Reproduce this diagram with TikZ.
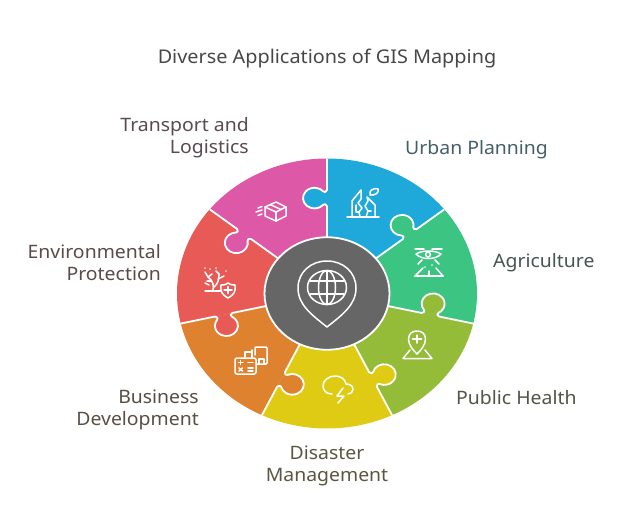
\documentclass[tikz,border=0pt]{standalone}
\usepackage{fontspec}
\setmainfont[FakeStretch=1.05]{Noto Sans}
\usepackage{xcolor}
\usepackage{tikz}
\definecolor{cityblue}{RGB}{30, 169, 218}
\definecolor{farmgreen}{RGB}{60, 196, 130}
\definecolor{healtholive}{RGB}{148, 188, 56}
\definecolor{stormyellow}{RGB}{224, 203, 20}
\definecolor{tradeorange}{RGB}{223, 130, 47}
\definecolor{leafred}{RGB}{232, 90, 85}
\definecolor{routepink}{RGB}{222, 88, 168}
\definecolor{hubgrey}{RGB}{102, 102, 102}
\tikzstyle{appname} = [font=\fontsize{18.5}{22}\selectfont, inner sep=0pt]
\tikzstyle{seam} = [draw=white, line width=1.8pt, line join=round]
\tikzstyle{icon} = [draw=white, line width=1.5pt, line cap=round, line join=round]
\def\tabcurve{(97,0) .. controls (99.5,1) and (100,2.5) .. (98.6,3.7) arc[start angle=230, delta angle=-280, radius=11.5] .. controls (112,2.5) and (112.5,1) .. (115,0)}
\def\wheelparts{90/cityblue, 38.57/farmgreen, -12.86/healtholive, -64.29/stormyellow, -115.71/tradeorange, -167.14/leafred, -218.57/routepink}

\begin{document}
\begin{tikzpicture}[x=1pt, y=-1pt]
\useasboundingbox (0,0) rectangle (629,531);

% wheel =============================
\begin{scope}[shift={(327,293.5)}, y=1pt, yscale=.9]
\foreach \ang/\col in \wheelparts {
  \fill[\col] (0,0) -- (\ang:150) arc[start angle=\ang, delta angle=-51.43, radius=150] -- cycle;
}
\foreach \ang/\col in \wheelparts {
  \begin{scope}[rotate=\ang]
    \fill[\col] \tabcurve -- cycle;
    \draw[seam] (60,0) -- \tabcurve -- (150,0);
  \end{scope}
}
\draw[seam, fill=hubgrey] (0,0) circle (62.5);
\end{scope}

% hub icon
\draw[icon] (327,327) .. controls (312,315) and (298,305) .. (298,288) .. controls (298,272) and (311,261) .. (327,261) .. controls (343,261) and (356,272) .. (356,288) .. controls (356,305) and (342,315) .. (327,327) -- cycle;
\draw[icon] (327,287.5) ellipse (19.5 and 17);
\draw[icon] (327,287.5) ellipse (8.5 and 17);
\draw[icon] (327,270.5) -- (327,304.5);
\draw[icon] (310,281) -- (344,281);
\draw[icon] (310,294) -- (344,294);

% box icon
\draw[icon] (276,202) -- (286,207) -- (286,216) -- (276,221) -- (265,216) -- (265,207) -- cycle;
\draw[icon] (265,207) -- (276,212) -- (286,207);
\draw[icon] (276,212) -- (276,221);
\draw[icon] (270,204.5) -- (281,209.5);
\draw[icon] (258,208) -- (262,206.5);
\draw[icon] (256,212) -- (262,210);
\draw[icon] (258,215.5) -- (262,214);

% city icon
\draw[icon] (347,217) -- (379,217);
\draw[icon] (352,217) -- (352,201) -- (361,190) -- (361,199) -- (358,203) -- (362,208) -- (359,212) -- (360,217);
\draw[icon] (366,217) -- (368,211) -- (365,206) -- (368,201) -- (367,197) -- (375,205) -- (375,217);
\draw[icon] (356,205) -- (356,211);
\draw[icon] (359,212) -- (356,212);
\draw[icon] (368,211) -- (371,211);
\draw[icon] (370,192) .. controls (371,189) and (376,188) .. (378,189) .. controls (380,192) and (375,196) .. (370,195) -- cycle;

% drone icon
\draw[icon] (415,249) -- (424,249);
\draw[icon] (432,249) -- (442,249);
\draw[icon] (416,254) .. controls (422,250) and (435,250) .. (441,254) .. controls (436,260) and (421,260) .. (416,254) -- cycle;
\draw[icon] (428,254.5) circle (2.4);
\draw[icon] (422,260) -- (418,264);
\draw[icon] (435,260) -- (439,264);
\draw[icon] (415,276) -- (443,276);
\draw[icon] (415,276) -- (423,268);
\draw[icon] (443,276) -- (436,268);
\draw[icon] (425,267) -- (425,267.1);
\draw[icon] (432,265) -- (432,265.1);
\draw[icon] (429,271) -- (429,276);

% map pin icon
\draw[icon] (417,354) .. controls (413,350) and (408.5,345) .. (408.5,339) .. controls (408.5,334) and (412,331) .. (417,331) .. controls (422,331) and (425.5,334) .. (425.5,339) .. controls (425.5,345) and (421,350) .. (417,354) -- cycle;
\draw[icon] (412.5,339) -- (421.5,339);
\draw[icon] (417,335) -- (417,343);
\draw[icon] (410,350) -- (403,358.5) -- (432,358.5) -- (425,350);

% cloud icon
\draw[icon] (332,394) .. controls (326,394) and (323,390) .. (323,386) .. controls (323,380) and (329,376) .. (335,376) .. controls (341,376) and (345,379) .. (346,384) .. controls (350,384) and (353,386) .. (353,389) .. controls (353,392) and (351,394) .. (348,394);
\draw[icon] (343,388) -- (337,396) -- (344,396) -- (338,403);

% calculator and sheet icon
\draw[icon, rounded corners=2pt] (235,358) rectangle (256,374);
\draw[icon] (238.5,362.5) -- (243,362.5);
\draw[icon] (240.7,360.5) -- (240.7,364.5);
\draw[icon] (248,362.5) -- (253,362.5);
\draw[icon] (239,368) -- (242.5,371);
\draw[icon] (242.5,368) -- (239,371);
\draw[icon] (248,368) -- (253,368);
\draw[icon] (248,371) -- (253,371);
\draw[icon, rounded corners=1pt] (255,355) -- (255,347) -- (267,347) -- (267,364) -- (257,364);
\draw[icon] (245,352) -- (245,357);
\draw[icon] (245,352) -- (252,352);
\draw[icon] (252,350) -- (252,357);
\draw[icon] (259,364) -- (259,359) -- (264,359) -- (264,364);

% tree and shield icon
\draw[icon] (205,291) -- (221,291);
\draw[icon] (213,291) .. controls (214,285) and (213,281) .. (208,277);
\draw[icon] (214,287) .. controls (218,284) and (219,279) .. (219,274);
\draw[icon] (209,285) -- (205,283);
\draw[icon] (208,277) -- (205,272);
\draw[icon] (208,277) -- (212,274);
\draw[icon] (218,279) -- (224,276);
\draw[icon] (219,274) -- (216,271);
\draw[icon] (211,281) -- (207,281);
\draw[icon] (216,268) -- (216,268.1);
\draw[icon] (226,271) -- (226,271.1);
\draw[icon] (210,269) -- (210,269.1);
\draw[icon] (205,268) -- (205,268.1);
\draw[icon] (228,283) .. controls (225,285) and (223,285) .. (221,285) .. controls (220,291) and (222,295) .. (228,298) .. controls (234,295) and (236,291) .. (235,285) .. controls (233,285) and (231,285) .. (228,283) -- cycle;
\draw[icon] (224,290) -- (232,290);
\draw[icon] (228,286.5) -- (228,293.5);

% labels
\node[appname, text=black!72, font=\fontsize{18.9}{22}\selectfont] (title) at (327,59) {Diverse Applications of GIS Mapping};
\node[appname, text=cityblue!25!black!75, anchor=west] (urban) at (405,150) {Urban Planning};
\node[appname, text=farmgreen!15!black!75, anchor=west] (agri) at (493,263) {Agriculture};
\node[appname, text=healtholive!15!black!75, anchor=west] (health) at (456,398) {Public Health};
\node[appname, text=stormyellow!15!black!75, align=center] (disaster) at (327,466) {Disaster\\Management};
\node[appname, text=tradeorange!15!black!75, align=right, anchor=east] (business) at (199,410) {Business\\Development};
\node[appname, text=leafred!15!black!75, align=right, anchor=east] (environ) at (161,263) {Environmental\\Protection};
\node[appname, text=routepink!15!black!75, align=right, anchor=east] (transport) at (249,138) {Transport and\\Logistics};

\end{tikzpicture}
\end{document}
